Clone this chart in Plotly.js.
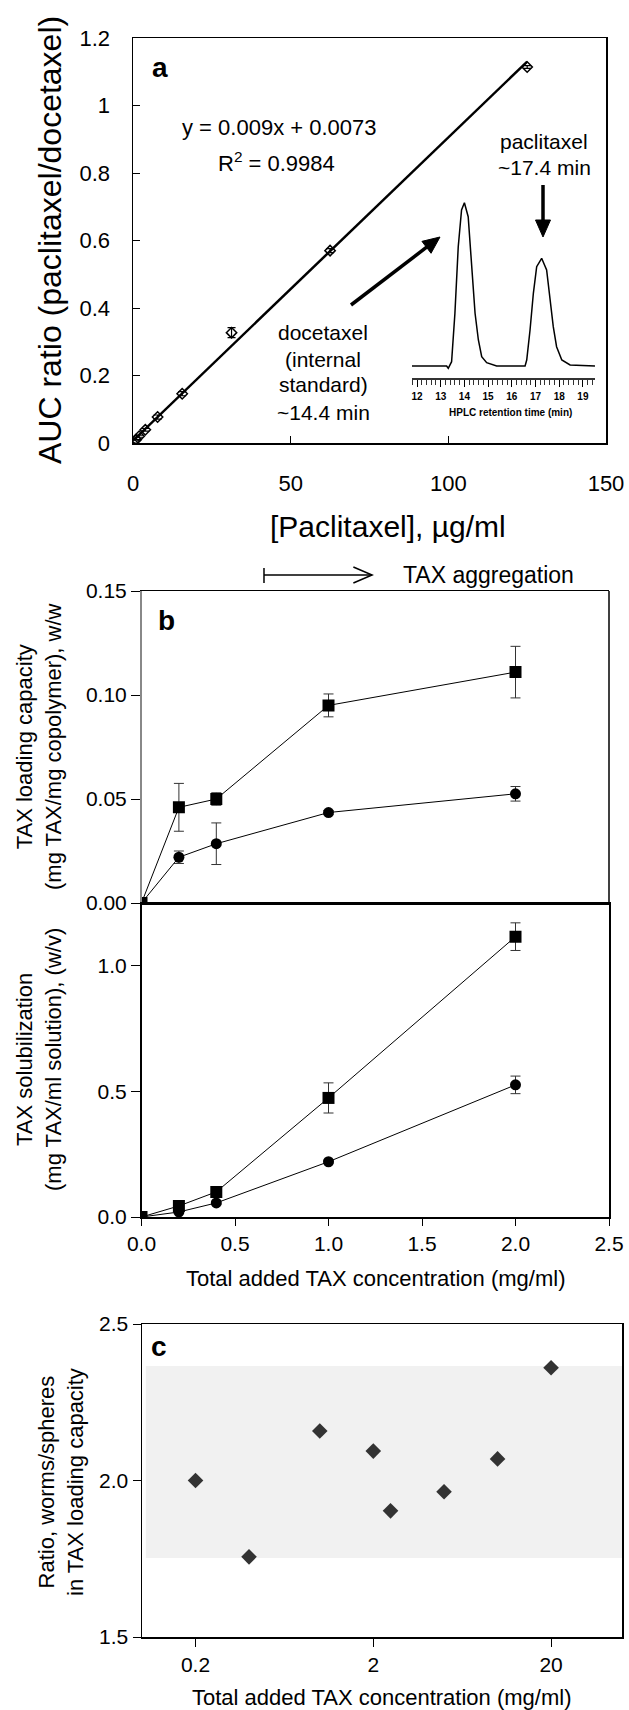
<!DOCTYPE html>
<html>
<head>
<meta charset="utf-8">
<script src="https://cdn.plot.ly/plotly-3.0.1.min.js"></script>
<style>html,body{margin:0;padding:0;background:#fff;}#chart{width:629px;height:1710px;}</style>
</head>
<body>
<div id="chart"></div>
<script>
// ---------- Panel a: calibration ----------
const aConc = [0, 0.98, 1.95, 3.9, 7.8, 15.6, 31.25, 62.5, 125];
const aRatio = [0.0, 0.01, 0.02, 0.039, 0.077, 0.146, 0.327, 0.570, 1.114];
const aRatioErr = [0, 0, 0.003, 0.004, 0.006, 0.006, 0.015, 0.006, 0.004];
const fitX = [0, 125];
const fitY = [0.007, 1.13];
// inset chromatogram (retention time in min, detector signal in arbitrary units)
const hplcTime = [11.78, 13.25, 13.32, 13.46, 13.60, 13.74, 13.88, 14.00, 14.16, 14.31, 14.45, 14.59, 14.73, 14.94, 15.36,
                  16.56, 16.63, 16.77, 16.91, 17.05, 17.26, 17.47, 17.61, 17.75, 17.89, 18.11, 18.46, 19.51];
const hplcSignal = [0, 0, -2.3, 4.3, 52.7, 119.3, 156, 163.3, 149.3, 102.7, 52.7, 26, 9.3, 3.3, 0,
                    0, 6, 36, 72.7, 99.3, 107.7, 96, 69.3, 39.3, 19.3, 6, 1, 0];
const hplcTicks = [12, 13, 14, 15, 16, 17, 18, 19];

// ---------- Panel b ----------
const bConc = [0, 0.2, 0.4, 1.0, 2.0];
const wormLoad = [0, 0.046, 0.050, 0.095, 0.111];
const wormLoadErr = [0, 0.0115, 0.003, 0.0055, 0.0124];
const sphereLoad = [0, 0.022, 0.0285, 0.0435, 0.0525];
const sphereLoadErr = [0, 0.003, 0.010, 0.001, 0.0035];
const wormSol = [0, 0.044, 0.10, 0.474, 1.116];
const wormSolErr = [0, 0.005, 0.01, 0.06, 0.055];
const sphereSol = [0, 0.02, 0.056, 0.22, 0.526];
const sphereSolErr = [0, 0.003, 0.005, 0.005, 0.035];
const aggStart = 0.655, aggEnd = 1.233;

// ---------- Panel c ----------
const cConc = [0.2, 0.4, 1, 2, 2.5, 5, 10, 20];
const cRatio = [2.0, 1.756, 2.158, 2.094, 1.903, 1.964, 2.069, 2.36];
const bandLow = 1.752, bandHigh = 2.366;
const cTickVals = [0.2, 2, 20];
const cTickText = ['0.2', '2', '20'];

// ---------- layout helpers (pixel -> paper) ----------
const W = 629, H = 1710;
const px = v => v / W;
const py = v => 1 - v / H;
const FONT = 'Liberation Sans, Arial, sans-serif';
const K = '#000';

const data = [
  {x: fitX, y: fitY, xaxis: 'x', yaxis: 'y', mode: 'lines', line: {color: K, width: 2.5}, hoverinfo: 'skip'},
  {x: aConc, y: aRatio, xaxis: 'x', yaxis: 'y', mode: 'markers',
   marker: {symbol: 'diamond-open', size: 8, color: K, line: {width: 1.5, color: K}},
   error_y: {type: 'data', array: aRatioErr, color: K, thickness: 1.2, width: 4}},
  {x: hplcTime, y: hplcSignal, xaxis: 'x2', yaxis: 'y2', mode: 'lines', line: {color: K, width: 1.5}},
  {x: bConc, y: sphereLoad, xaxis: 'x3', yaxis: 'y3', mode: 'lines+markers',
   line: {color: K, width: 1}, marker: {symbol: 'circle', size: 11, color: K},
   error_y: {type: 'data', array: sphereLoadErr, color: '#333', thickness: 1, width: 5}},
  {x: bConc, y: wormLoad, xaxis: 'x3', yaxis: 'y3', mode: 'lines+markers',
   line: {color: K, width: 1}, marker: {symbol: 'square', size: 12, color: K},
   error_y: {type: 'data', array: wormLoadErr, color: '#333', thickness: 1, width: 5}},
  {x: bConc, y: sphereSol, xaxis: 'x4', yaxis: 'y4', mode: 'lines+markers',
   line: {color: K, width: 1}, marker: {symbol: 'circle', size: 11, color: K},
   error_y: {type: 'data', array: sphereSolErr, color: '#333', thickness: 1, width: 5}},
  {x: bConc, y: wormSol, xaxis: 'x4', yaxis: 'y4', mode: 'lines+markers',
   line: {color: K, width: 1}, marker: {symbol: 'square', size: 12, color: K},
   error_y: {type: 'data', array: wormSolErr, color: '#333', thickness: 1, width: 5}},
  {x: cConc, y: cRatio, xaxis: 'x5', yaxis: 'y5', mode: 'markers',
   marker: {symbol: 'diamond', size: 12, color: '#333'}}
];

const baseAxis = {showline: true, linecolor: K, linewidth: 1.5, showgrid: false, zeroline: false,
                  tickcolor: K, ticklen: 8, tickwidth: 1, fixedrange: true};

const bx = [px(141.5), px(609)];

// paper-anchored text helper (explicit centre anchoring)
const txt = (text, x, y, size, extra) => Object.assign({
  text: text, xref: 'paper', yref: 'paper', x: px(x), y: py(y),
  xanchor: 'center', yanchor: 'middle', showarrow: false, font: {size: size}
}, extra || {});

// thick arrow (shaft + filled head) drawn as paper shapes, given pixel tail/tip
function arrowShapes(x0, y0, x1, y1, headLen, headHalf, width) {
  const dx = x1 - x0, dy = y1 - y0, L = Math.hypot(dx, dy);
  const ux = dx / L, uy = dy / L, nx = -uy, ny = ux;
  const bxp = x1 - headLen * ux, byp = y1 - headLen * uy;
  const p = (a, b) => `${px(a)},${py(b)}`;
  return [
    {type: 'line', xref: 'paper', yref: 'paper', x0: px(x0), y0: py(y0), x1: px(bxp + ux), y1: py(byp + uy),
     line: {color: K, width: width}},
    {type: 'path', xref: 'paper', yref: 'paper',
     path: `M ${p(x1, y1)} L ${p(bxp + headHalf * nx, byp + headHalf * ny)} L ${p(bxp - headHalf * nx, byp - headHalf * ny)} Z`,
     fillcolor: K, line: {color: K, width: 1}}
  ];
}

const layout = {
  width: W, height: H, showlegend: false,
  margin: {l: 0, r: 0, t: 0, b: 0},
  paper_bgcolor: '#fff', plot_bgcolor: 'rgba(0,0,0,0)',
  font: {family: FONT, color: K, size: 20},
  xaxis: Object.assign({}, baseAxis, {domain: [px(133), px(606)], range: [0, 150], tickvals: [0, 50, 100, 150],
    ticks: 'inside', ticklen: 7, mirror: true, anchor: 'y', tickfont: {size: 22}, ticklabelstandoff: 20}),
  yaxis: Object.assign({}, baseAxis, {domain: [py(443), py(38)], range: [0, 1.2], dtick: 0.2,
    ticks: 'inside', ticklen: 7, mirror: true, anchor: 'x', tickfont: {size: 22}, ticklabelstandoff: 17}),
  xaxis2: Object.assign({}, baseAxis, {domain: [px(412), px(595)], range: [11.789, 19.511], anchor: 'free',
    position: py(378), tickvals: hplcTicks, ticks: 'outside', ticklen: 7, linewidth: 1.5, linecolor: '#333',
    minor: {dtick: 0.2, ticks: 'outside', ticklen: 5, tickcolor: '#333'},
    tickfont: {size: 10, weight: 'bold'}, ticklabelstandoff: 1}),
  yaxis2: {domain: [py(370), py(200)], range: [-4, 166], visible: false, anchor: 'x2', fixedrange: true},
  xaxis3: Object.assign({}, baseAxis, {domain: bx, range: [0, 2.5], anchor: 'y3', mirror: true,
    ticks: '', showticklabels: false}),
  yaxis3: Object.assign({}, baseAxis, {domain: [py(903), py(591)], range: [0, 0.15], dtick: 0.05,
    tickformat: '.2f', ticks: 'outside', ticklen: 9, linecolor: '#888', anchor: 'x3', tickfont: {size: 21}}),
  xaxis4: Object.assign({}, baseAxis, {domain: bx, range: [0, 2.5], dtick: 0.5, tickformat: '.1f',
    ticks: 'outside', ticklen: 7, mirror: true, anchor: 'y4', tickfont: {size: 21}}),
  yaxis4: Object.assign({}, baseAxis, {domain: [py(1217), py(903)], range: [0, 1.25], tickvals: [0, 0.5, 1.0],
    tickformat: '.1f', ticks: 'outside', ticklen: 9, mirror: true, anchor: 'x4', tickfont: {size: 21}}),
  xaxis5: Object.assign({}, baseAxis, {type: 'log', domain: [px(142), px(622)], range: [-1, 1.7],
    tickvals: cTickVals, ticktext: cTickText, ticks: 'outside', ticklen: 8, mirror: true, anchor: 'y5',
    tickfont: {size: 21}}),
  yaxis5: Object.assign({}, baseAxis, {domain: [py(1637), py(1324)], range: [1.5, 2.5], dtick: 0.5,
    tickformat: '.1f', ticks: 'outside', ticklen: 8, mirror: true, anchor: 'x5', tickfont: {size: 21}}),
  shapes: [
    {type: 'rect', xref: 'x5 domain', x0: 0.008, x1: 1, yref: 'y5', y0: bandLow, y1: bandHigh,
     fillcolor: '#f1f1f1', line: {width: 0}, layer: 'below'},
    {type: 'line', xref: 'x3 domain', x0: 1, x1: 1, yref: 'y3 domain', y0: 0, y1: 1, line: {color: K, width: 1.5}},
    {type: 'line', xref: 'x3', x0: aggStart, x1: aggEnd, yref: 'paper', y0: py(575), y1: py(575), line: {color: K, width: 1.5}},
    {type: 'line', xref: 'x3', x0: aggStart, x1: aggStart, yref: 'paper', y0: py(568), y1: py(583), line: {color: K, width: 1.5}},
    {type: 'path', xref: 'x3', yref: 'paper',
     path: `M ${aggEnd - 0.1},${py(567)} L ${aggEnd},${py(575)} L ${aggEnd - 0.1},${py(583)}`,
     line: {color: K, width: 1.5}}
  ].concat(arrowShapes(351, 305, 440, 237, 17, 7.5, 3.5), arrowShapes(543, 185, 543, 237, 17, 7.5, 3.5)),
  annotations: [
    // axis titles
    txt('AUC ratio (paclitaxel/docetaxel)', 50, 240, 32, {textangle: -90}),
    txt('[Paclitaxel], \u00b5g/ml', 388, 527, 30),
    txt('TAX loading capacity<br>(mg TAX/mg copolymer), w/w', 39, 747, 22, {textangle: -90}),
    txt('TAX solubilization<br>(mg TAX/ml solution), (w/v)', 39, 1060, 22, {textangle: -90}),
    txt('Total added TAX concentration (mg/ml)', 375, 1278, 22),
    txt('Ratio, worms/spheres<br>in TAX loading capacity', 61, 1482, 22, {textangle: -90}),
    txt('Total added TAX concentration (mg/ml)', 382, 1697, 22),
    txt('HPLC retention time (min)', 510, 412, 10, {font: {size: 10, weight: 'bold'}}),
    // panel labels
    txt('<b>a</b>', 160, 68, 28),
    txt('<b>b</b>', 166, 620, 28),
    txt('<b>c</b>', 159, 1346, 28),
    // panel a texts
    txt('y = 0.009x + 0.0073', 279, 128, 22),
    txt('R<sup>2</sup> = 0.9984', 276, 162, 22),
    txt('paclitaxel', 544, 142, 21),
    txt('~17.4 min', 544, 167, 21),
    txt('docetaxel', 323, 333, 21),
    txt('(internal', 323, 359, 21),
    txt('standard)', 323, 385, 21),
    txt('~14.4 min', 323, 412, 21),
    // panel b aggregation note
    txt('TAX aggregation', 488, 575, 23)
  ]
};

Plotly.newPlot('chart', data, layout, {staticPlot: true, displayModeBar: false});
</script>
</body>
</html>
